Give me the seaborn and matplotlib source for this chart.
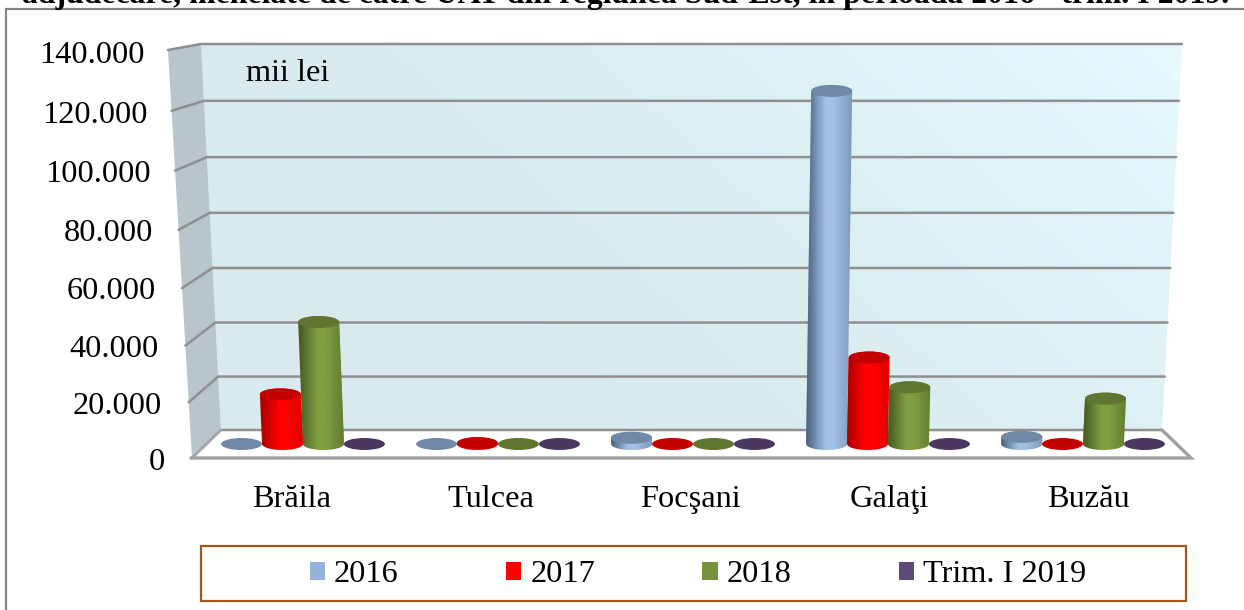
import matplotlib
matplotlib.use("Agg")
import matplotlib.pyplot as plt
import numpy as np
import pandas as pd
import seaborn as sns
from matplotlib.colors import LinearSegmentedColormap
from matplotlib.patches import Ellipse, PathPatch, Polygon, Rectangle
from matplotlib.path import Path
from matplotlib.ticker import FuncFormatter
from matplotlib.transforms import Affine2D

# values, in mii lei
cities = ['Brăila', 'Tulcea', 'Focşani', 'Galaţi', 'Buzău']
periods = ['2016', '2017', '2018', 'Trim. I 2019']
v2016 = [0, 0, 2200, 124500, 2500]
v2017 = [17500, 300, 0, 30500, 0]
v2018 = [43000, 0, 0, 20000, 16000]
v2019 = [0, 0, 0, 0, 0]
y_ticks = [0, 20000, 40000, 60000, 80000, 100000, 120000, 140000]

legend_colors = ['#95b3d7', '#ff0000', '#76923c', '#5f497a']
cap_colors = ['#7189a8', '#c40000', '#5f7530', '#4b3860']
side_dark = ['#4a617e', '#a80000', '#46581f', '#3a2a4e']
side_light = ['#a3c0e6', '#ff0000', '#7f9f40', '#6a5288']
side_right = ['#7d97b8', '#e00000', '#647d32', '#503c66']

W, H = 1244, 610
SERIF = 'Liberation Serif'
FS = 23.3

sns.set_theme(style='white')
plt.rcParams['font.family'] = [SERIF, 'DejaVu Sans']


def axes_box(fig, left, top, right, bottom):
    return fig.add_axes([left / W, 1 - bottom / H, (right - left) / W, (bottom - top) / H])


def persp(t, c):
    # gridlines spread a little towards the top of the walls
    return t * (1 - c * (1 - t))


fig = plt.figure(figsize=(W / 100, H / 100), dpi=100, facecolor='white')

# pixel canvas for the walls, floor and frame
bg = axes_box(fig, 0, 0, W, H)
bg.axis('off')

bg.add_patch(Rectangle((6, 9), W + 20, H + 20, fc='white', ec='#848484', lw=1.6))
bg.add_patch(Polygon([(192, 458), (221, 430), (1162, 430), (1191, 458)], fc='white', ec='none'))

wall = Polygon([(201, 44), (1182, 44), (1162, 430), (221, 430)], fc='none', ec='none')
bg.add_patch(wall)
gx, gy = np.meshgrid(np.linspace(0, 1, 80), np.linspace(0, 1, 40))
wall_img = bg.imshow((gx * 0.7 + (1 - gy) * 0.3) ** 2.5, extent=(201, 1182, 430, 44), aspect='auto',
                     cmap=LinearSegmentedColormap.from_list('w', ['#d8eaee', '#e6faff']),
                     origin='upper', vmin=0, vmax=1, interpolation='bilinear', zorder=1)
wall_img.set_clip_path(wall)
bg.set_xlim(0, W)
bg.set_ylim(H, 0)

bg.add_patch(Polygon([(168, 50), (201, 44), (221, 430), (192, 458)], fc='#b8c5ca', ec='none'))

# gridlines on both walls, from the tick values
for tick in y_ticks:
    t = tick / y_ticks[-1]
    yb = 430 - 386 * persp(t, 0.036)
    yf = 458 - 408 * persp(t, 0.05)
    xb0 = 221 - 20 * (430 - yb) / 386
    xb1 = 1162 + 20 * (430 - yb) / 386
    xf0 = 192 - 24 * (458 - yf) / 408
    bg.plot([xf0, xb0, xb1], [yf, yb, yb], color='#8f8f8f', lw=1.8, solid_joinstyle='miter')
bg.plot([192, 221], [458, 430], color='#a8a8a8', lw=1.5)
bg.plot([1162, 1191, 191], [430, 458, 458], color='#a0a0a0', lw=2.4, solid_joinstyle='miter')

# real axis for the labels, on the front plane of the chart
lab = axes_box(fig, 191, 52, 1191, 459)
lab.patch.set_visible(False)
lab.set_ylim(0, y_ticks[-1])
lab.set_xlim((191 - 292) / 199, (1191 - 292) / 199)
lab.set_yticks(y_ticks)
lab.set_xticks(range(len(cities)), cities)
lab.yaxis.set_major_formatter(FuncFormatter(lambda v, _: f'{int(v):,}'.replace(',', '.')))
lab.tick_params(axis='y', length=0, pad=19, labelsize=FS, labelcolor='black')
lab.tick_params(axis='x', length=0, pad=18.5, labelsize=FS, labelcolor='black')
sns.despine(ax=lab, left=True, bottom=True)
# the labels follow the slant of the side wall
for tick, label in zip(y_ticks, lab.get_yticklabels()):
    t = tick / y_ticks[-1]
    label.set_transform(label.get_transform() + Affine2D().translate(-20 * t, -14 * t * (1 - t)))

# the bars stand further back, so they get their own scale
ax = axes_box(fig, 191, 47, 1191, 444)
ax.patch.set_visible(False)

df = pd.DataFrame({
    'city': cities * 4,
    'period': np.repeat(periods, len(cities)),
    'value': v2016 + v2017 + v2018 + v2019,
})
sns.barplot(data=df, x='city', y='value', hue='period', order=cities, hue_order=periods,
            palette=legend_colors, width=0.84, gap=0, dodge=True, saturation=1,
            linewidth=0, legend=True, ax=ax)
ax.set_ylim(0, y_ticks[-1])
ax.set_xlim((191 - 303) / 195, (1191 - 303) / 195)
ax.set_xticks([])
ax.set_yticks([])
ax.set_xlabel('')
ax.set_ylabel('')
sns.despine(ax=ax, left=True, bottom=True)

handles, labels = ax.get_legend_handles_labels()
ax.get_legend().remove()

fig.canvas.draw()
CAP_H = 6.0  # half height of an ellipse in pixels
CENTRE = 691  # the view leans away from this x


def cylinder(x0, x1, base, top):
    # outline in canvas pixels (y going down), with the slight lean of the 3D view
    t = np.linspace(np.pi, 2 * np.pi, 30)
    mid = (x0 + x1) / 2
    off = (mid - CENTRE) * 0.0426 * (base - top) / 397
    r = (x1 - x0) / 2
    low = np.column_stack([mid + r * np.cos(t), base - CAP_H * np.sin(t)])
    up = np.column_stack([mid + off + r * np.cos(t[::-1]), top + CAP_H * np.sin(t[::-1])])
    return np.vstack([low, up, low[:1]]), mid + off, r


for s, container in enumerate(ax.containers):
    cmap = LinearSegmentedColormap.from_list(
        f's{s}', [(0, side_dark[s]), (0.42, side_light[s]), (0.6, side_light[s]), (1, side_right[s])])
    for bar in container:
        h = bar.get_height()
        (x0, base), (x1, top) = ax.transData.transform([(bar.get_x(), 0), (bar.get_x() + bar.get_width(), h)])
        z = 3 + s * 0.1 + bar.get_x() * 0.001
        outline, mx, r = cylinder(x0, x1, H - base, H - top)
        bar.set_zorder(z)
        if h > 0:
            clip = PathPatch(Path(outline, closed=True), transform=bg.transData, fc='none', ec='none')
            bg.add_patch(clip)
            bar.set_clip_path(clip)
            ext = (outline[:, 0].min(), outline[:, 0].max(), outline[:, 1].max(), outline[:, 1].min())
            im = ax.imshow(np.linspace(0, 1, 64)[None, :], extent=ext, aspect='auto', cmap=cmap,
                           transform=bg.transData, zorder=z + 0.01, interpolation='bilinear')
            # the rounded foot hangs below the axes box
            im.set_clip_box(fig.bbox)
            im.set_clip_path(clip)
        ax.add_patch(Ellipse((mx, H - top), 2 * r, 2 * CAP_H, fc=cap_colors[s], ec='none',
                             transform=bg.transData, zorder=z + 0.02, clip_on=False))
ax.set_ylim(0, y_ticks[-1])
ax.set_xlim((191 - 303) / 195, (1191 - 303) / 195)
ax.set_aspect('auto')

# legend and its box
bg.add_patch(Rectangle((200.5, 545.5), 985, 55, fc='white', ec='#a5561a', lw=1.6, zorder=1))
leg = ax.legend(handles, labels, loc='center', bbox_to_anchor=(698 / W, 1 - 575 / H),
                bbox_transform=fig.transFigure, ncol=4, frameon=False, fontsize=FS,
                handlelength=0.47, handleheight=0.5, handletextpad=0.28, columnspacing=3.32,
                borderpad=0, labelcolor='black')
for text in leg.get_texts():
    text.set_family(SERIF)

ax.text(246, 81, 'mii lei', transform=bg.transData, fontsize=FS, family=SERIF, color='black', va='baseline')

# title line, cut by the top of the picture
bg.text(22, 3, 'adjudecare, menelate de către UAT din regiunea Sud-Est, în perioada 2016 - trim. I 2019.',
        fontsize=22.9, family=SERIF, weight='bold', color='black', va='baseline')

fig.savefig('out.png', dpi=100)
